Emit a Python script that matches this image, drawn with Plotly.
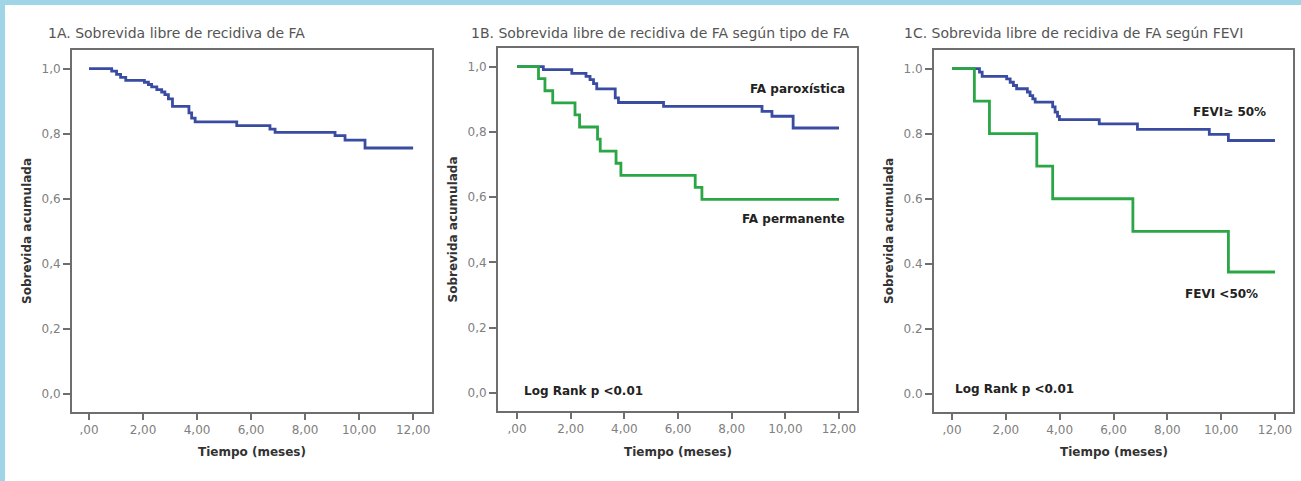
import plotly.graph_objects as go

# Kaplan-Meier estimates: recurrence-free survival of AF (months)
meses_total = [0, 0.84, 1.02, 1.17, 1.36, 2.05, 2.20, 2.32, 2.51, 2.69, 2.81, 2.94,
               3.09, 3.70, 3.80, 3.93, 5.47, 6.70, 6.89, 9.11, 9.48, 10.22, 12.0]
sobrev_total = [1.0, 0.992, 0.982, 0.973, 0.964, 0.958, 0.951, 0.944, 0.935, 0.928, 0.920, 0.907,
                0.884, 0.864, 0.848, 0.836, 0.825, 0.814, 0.804, 0.794, 0.780, 0.756, 0.756]

# By AF type
meses_parox = [0, 0.98, 2.04, 2.57, 2.72, 2.85, 2.97, 3.66, 3.78, 5.46, 9.13, 9.50, 10.29, 12.0]
sobrev_parox = [1.0, 0.991, 0.979, 0.970, 0.960, 0.948, 0.932, 0.904, 0.890, 0.878, 0.863, 0.848, 0.812, 0.812]
meses_perm = [0, 0.80, 1.04, 1.33, 2.16, 2.33, 3.00, 3.10, 3.69, 3.87, 6.64, 6.89, 12.0]
sobrev_perm = [1.0, 0.963, 0.926, 0.889, 0.852, 0.815, 0.778, 0.741, 0.704, 0.667, 0.630, 0.593, 0.593]

# By LVEF
meses_fevi_alta = [0, 1.02, 1.12, 2.03, 2.16, 2.28, 2.40, 2.80, 2.90, 3.00, 3.09, 3.74, 3.83,
                   3.92, 3.99, 5.47, 6.89, 9.56, 10.27, 12.0]
sobrev_fevi_alta = [1.0, 0.989, 0.976, 0.968, 0.958, 0.948, 0.938, 0.928, 0.917, 0.907, 0.897, 0.882, 0.866,
                    0.853, 0.843, 0.830, 0.813, 0.798, 0.779, 0.779]
meses_fevi_baja = [0, 0.83, 1.39, 3.15, 3.74, 6.72, 10.27, 12.0]
sobrev_fevi_baja = [1.0, 0.9, 0.8, 0.7, 0.6, 0.5, 0.375, 0.375]

x_tickvals = [0, 2, 4, 6, 8, 10, 12]
x_ticktext = [",00", "2,00", "4,00", "6,00", "8,00", "10,00", "12,00"]
y_tickvals = [0.0, 0.2, 0.4, 0.6, 0.8, 1.0]
y_ticktext_coma = ["0,0", "0,2", "0,4", "0,6", "0,8", "1,0"]
y_ticktext_punto = ["0.0", "0.2", "0.4", "0.6", "0.8", "1.0"]

titulos = ["1A. Sobrevida libre de recidiva de FA",
           "1B. Sobrevida libre de recidiva de FA según tipo de FA",
           "1C. Sobrevida libre de recidiva de FA según FEVI"]

W, H = 1301, 481
AZUL = "#3a4ca2"
VERDE = "#2aa646"
GRIS = "#6e6e6e"
FONT = "DejaVu Sans, Liberation Sans, Arial, sans-serif"


def px(x):
    return x / W


def py(y):
    return 1 - y / H


# panel boxes in pixels (left, top, right, bottom), x-range, title left edge
paneles = [
    dict(box=(72, 50, 432, 412), xr=[-0.63, 12.7], yt=y_ticktext_coma, tx=46),
    dict(box=(498, 48, 857, 411), xr=[-0.71, 12.67], yt=y_ticktext_coma, tx=469),
    dict(box=(934, 50, 1293, 412), xr=[-0.67, 12.67], yt=y_ticktext_punto, tx=902),
]

fig = go.Figure()

series = [
    (1, meses_total, sobrev_total, AZUL),
    (2, meses_parox, sobrev_parox, AZUL),
    (2, meses_perm, sobrev_perm, VERDE),
    (3, meses_fevi_alta, sobrev_fevi_alta, AZUL),
    (3, meses_fevi_baja, sobrev_fevi_baja, VERDE),
]
for k, t, s, c in series:
    sfx = "" if k == 1 else str(k)
    fig.add_trace(go.Scatter(x=t, y=s, mode="lines", line=dict(color=c, width=2.8, shape="hv"),
                             xaxis="x" + sfx, yaxis="y" + sfx, showlegend=False, hoverinfo="skip"))

annotations = []
layout = {}
for i, p in enumerate(paneles):
    sfx = "" if i == 0 else str(i + 1)
    l, t, r, b = p["box"]
    common = dict(showline=True, mirror=True, linecolor=GRIS, linewidth=2, showgrid=False,
                  zeroline=False, ticks="outside", tickcolor=GRIS, tickwidth=2,
                  tickfont=dict(family=FONT, size=12, color="#808080"))
    layout["xaxis" + sfx] = dict(common, domain=[px(l), px(r)], range=p["xr"], anchor="y" + sfx,
                                 tickvals=x_tickvals, ticktext=x_ticktext, ticklen=6)
    layout["yaxis" + sfx] = dict(common, domain=[py(b), py(t)], range=[-0.055, 1.057], anchor="x" + sfx,
                                 tickvals=y_tickvals, ticktext=p["yt"], ticklen=7)
    cx = (l + r) / 2
    annotations.append(dict(text="Tiempo (meses)", x=px(cx), y=py(452), xref="paper", yref="paper",
                            showarrow=False, xanchor="center", yanchor="middle",
                            font=dict(family=FONT, size=12, color="#333333", weight="bold")))
    annotations.append(dict(text="Sobrevida acumulada", x=px(l - 45), y=py((t + b) / 2),
                            xref="paper", yref="paper", showarrow=False, textangle=-90,
                            xanchor="center", yanchor="middle",
                            font=dict(family=FONT, size=12, color="#333333", weight="bold")))
    annotations.append(dict(text=titulos[i], x=px(p["tx"]), y=py(33), xref="paper", yref="paper",
                            showarrow=False, xanchor="left", yanchor="middle",
                            font=dict(family=FONT, size=14, color="#555555")))

etiquetas = [
    ("FA paroxística", 847, 89, "right"),
    ("FA permanente", 847, 219, "right"),
    ("Log Rank p <0.01", 522, 391, "left"),
    ("FEVI≥ 50%", 1268, 112, "right"),
    ("FEVI <50%", 1260, 294, "right"),
    ("Log Rank p <0.01", 953, 389, "left"),
]
for txt, x, y, anc in etiquetas:
    annotations.append(dict(text=txt, x=px(x), y=py(y), xref="paper", yref="paper", showarrow=False,
                            xanchor=anc, yanchor="middle",
                            font=dict(family=FONT, size=12, color="#222222", weight="bold")))

# light blue frame along the top and left edges
shapes = [
    dict(type="rect", xref="paper", yref="paper", x0=0, x1=1, y0=py(5), y1=1,
         fillcolor="#9fd5e6", line=dict(width=0), layer="below"),
    dict(type="rect", xref="paper", yref="paper", x0=0, x1=px(5), y0=0, y1=1,
         fillcolor="#9fd5e6", line=dict(width=0), layer="below"),
]

fig.update_layout(width=W, height=H, autosize=False, margin=dict(l=0, r=0, t=0, b=0),
                  paper_bgcolor="white", plot_bgcolor="white",
                  annotations=annotations, shapes=shapes, **layout)

fig.write_html("out.html")
